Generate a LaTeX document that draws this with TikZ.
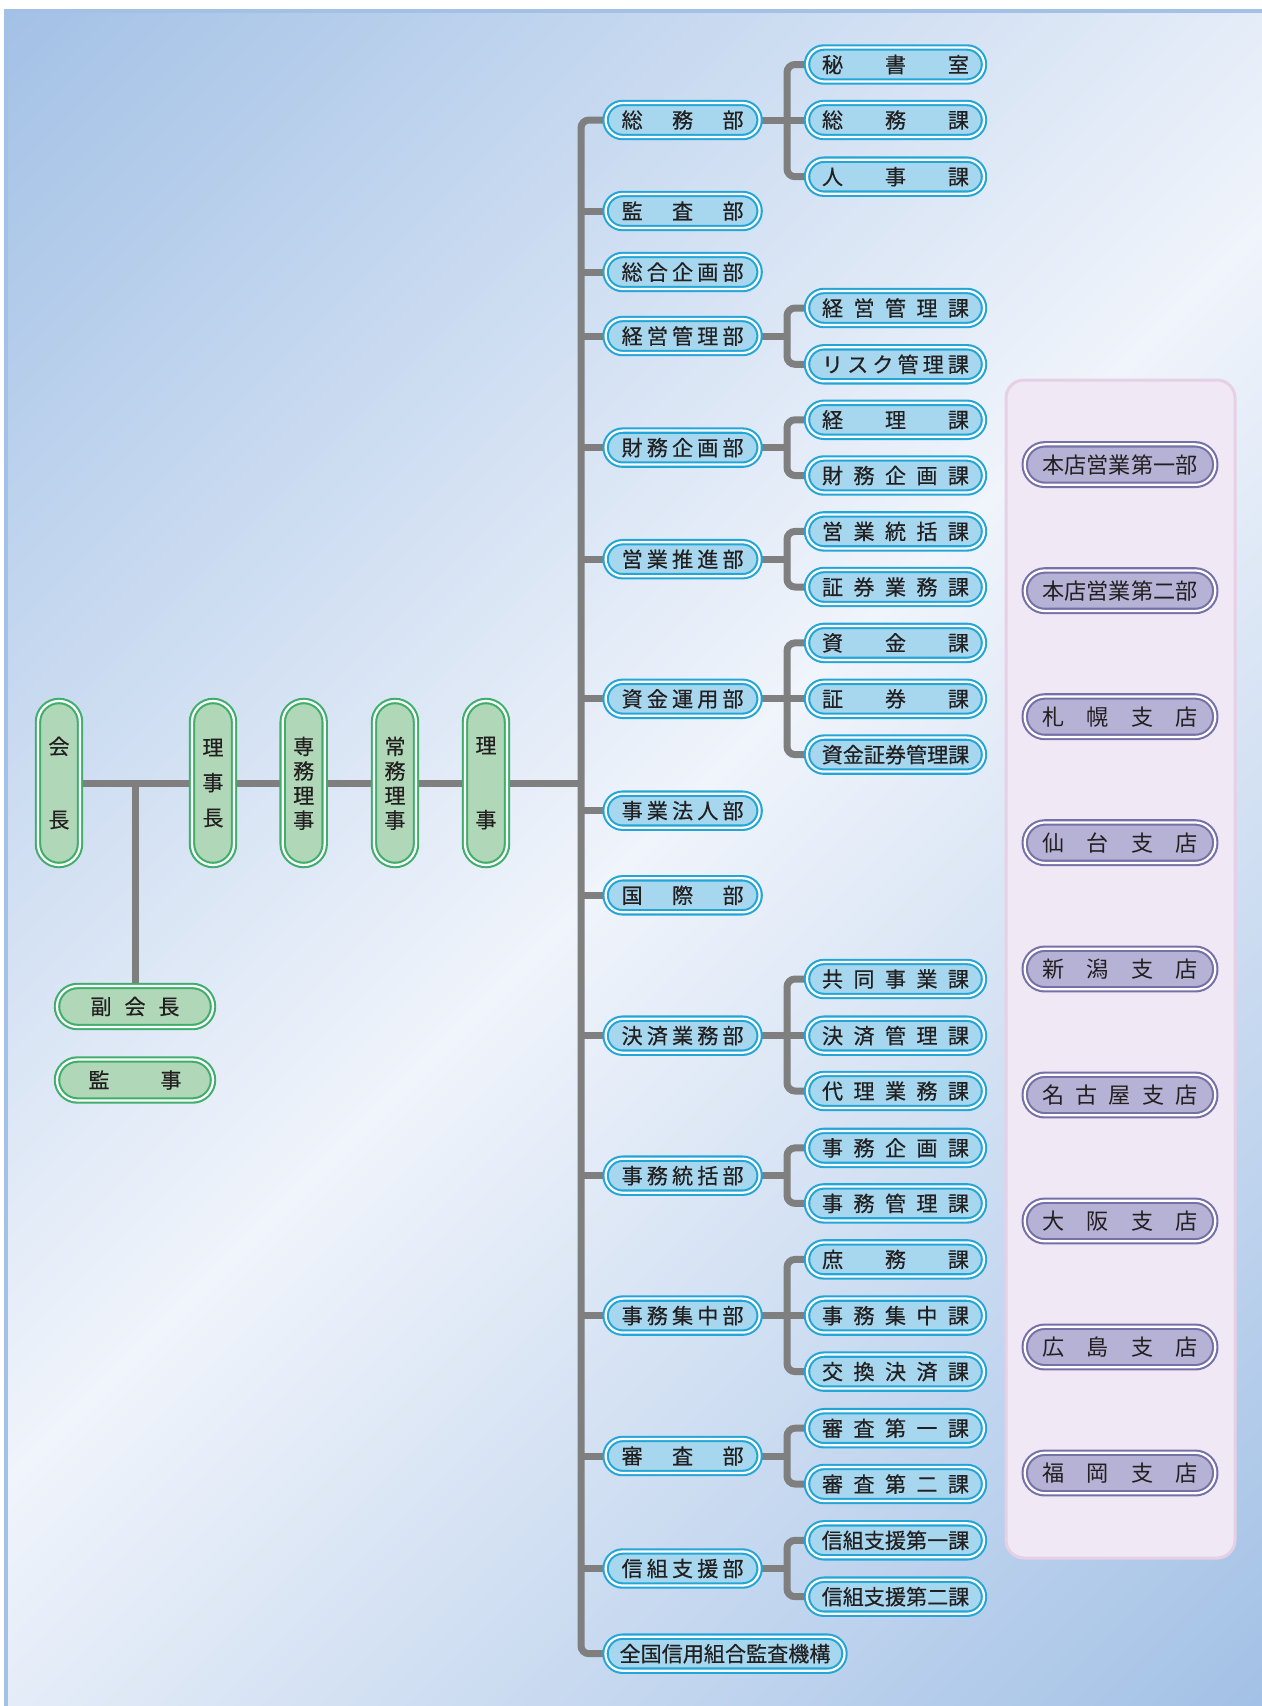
\documentclass[tikz,border=0pt]{standalone}
\usepackage{fontspec}
\newfontfamily\jpfont{Noto Sans CJK JP}
\newfontfamily\jpfontfuto{Noto Sans CJK JP}[FakeBold=0.4]

\definecolor{haikeiao}{HTML}{A3C1E6}
\definecolor{haikeishiro}{HTML}{F0F4FB}
\definecolor{aofill}{HTML}{A6D7EE}
\definecolor{aosen}{HTML}{22A6D8}
\definecolor{midorifill}{HTML}{B0D8B8}
\definecolor{midorisen}{HTML}{3FAE6B}
\definecolor{murasakifill}{HTML}{B6B2D6}
\definecolor{murasakisen}{HTML}{7570A8}
\definecolor{paneru}{HTML}{F0E8F5}
\definecolor{panerusen}{HTML}{E6D0E6}
\definecolor{haiiro}{HTML}{7F7F7F}
\definecolor{moji}{HTML}{231F20}

\pgfdeclareverticalshading{haikeigrad}{100bp}{color(0bp)=(haikeiao); color(14.6bp)=(haikeiao); color(50bp)=(haikeishiro); color(85.4bp)=(haikeiao); color(100bp)=(haikeiao)}

\pgfdeclarelayer{haikei}
\pgfdeclarelayer{senbiki}
\pgfsetlayers{haikei,senbiki,main}

% letters spread evenly over a width / a height
\def\hiraku#1{\hirakuA#1\relax}
\def\hirakuA#1#2{#1\ifx\relax#2\else\hfill\expandafter\hirakuA\expandafter#2\fi}
\newcommand{\yoko}[2]{\makebox[#1][s]{\hiraku{#2}}}
\def\tatehiraku#1{\tatehirakuA#1\relax}
\def\tatehirakuA#1#2{\hbox to\hsize{\hss#1\hss}\ifx\relax#2\else\vfill\expandafter\tatehirakuA\expandafter#2\fi}
\newcommand{\tate}[2]{\parbox[c][#1][s]{1.2em}{\tatehiraku{#2}}}

\begin{document}
\begin{tikzpicture}[x=0.2mm, y=-0.2mm,
		every node/.style={font=\jpfontfuto\fontsize{12pt}{14pt}\selectfont, text=moji, inner sep=0pt},
		waku/.style={double=white, double distance=0.45mm, line width=0.42mm},
		bu/.style={waku, draw=aosen, fill=aofill, rounded corners=3.4mm, minimum width=30.8mm, minimum height=6.8mm},
		ka/.style={bu, minimum width=35.4mm},
		ten/.style={waku, draw=murasakisen, fill=murasakifill, rounded corners=4mm, minimum width=38.1mm, minimum height=8.1mm, font=\jpfont\fontsize{12.6pt}{14pt}\selectfont},
		yaku/.style={waku, draw=midorisen, fill=midorifill, rounded corners=4.1mm, minimum width=31.2mm, minimum height=8.2mm},
		yakutate/.style={waku, draw=midorisen, fill=midorifill, rounded corners=4.2mm, minimum width=8.4mm, minimum height=32.8mm},
		kei/.style={draw=haiiro, line width=1.4mm},
	]
		\useasboundingbox (0,0) rectangle (1262,1706);

		% yakuin
		\node[yakutate] (kaichou) at (59,783) {\tate{18.2mm}{会長}};
		\node[yakutate] (rijichou) at (213,783) {\tate{17.4mm}{理事長}};
		\node[yakutate] (senmu) at (303.7,783) {\tate{18.2mm}{専務理事}};
		\node[yakutate] (joumu) at (395,783) {\tate{18.2mm}{常務理事}};
		\node[yakutate] (riji) at (486,783) {\tate{18.2mm}{理事}};
		\node[yaku] (fukukaichou) at (135,1006.5) {\yoko{17.8mm}{副会長}};
		\node[yaku] (kanji) at (135,1080) {\yoko{18.6mm}{監事}};

		% bu
		\node[bu] (soumubu) at (682.6,120) {\yoko{24.4mm}{総務部}};
		\node[bu] (kansabu) at (682.6,211) {\yoko{24.4mm}{監査部}};
		\node[bu] (kikakubu) at (682.6,272) {\yoko{24.4mm}{総合企画部}};
		\node[bu] (keieibu) at (682.6,336) {\yoko{24.4mm}{経営管理部}};
		\node[bu] (zaimubu) at (682.6,447.6) {\yoko{24.4mm}{財務企画部}};
		\node[bu] (eigyoubu) at (682.6,559.2) {\yoko{24.4mm}{営業推進部}};
		\node[bu] (shikinbu) at (682.6,698.8) {\yoko{24.4mm}{資金運用部}};
		\node[bu] (jigyoubu) at (682.6,810.7) {\yoko{24.4mm}{事業法人部}};
		\node[bu] (kokusaibu) at (682.6,895.3) {\yoko{24.4mm}{国際部}};
		\node[bu] (kessaibu) at (682.6,1035.7) {\yoko{24.4mm}{決済業務部}};
		\node[bu] (toukatsubu) at (682.6,1175.7) {\yoko{24.4mm}{事務統括部}};
		\node[bu] (shuuchuubu) at (682.6,1315.6) {\yoko{24.4mm}{事務集中部}};
		\node[bu] (shinsabu) at (682.6,1456) {\yoko{24.4mm}{審査部}};
		\node[bu] (shinkumibu) at (682.6,1568.5) {\yoko{24.4mm}{信組支援部}};
		\node[bu, minimum width=47.8mm] (zenkoku) at (725,1653.7) {全国信用組合監査機構};

		% ka
		\node[ka] (hisho) at (895.5,64.5) {\yoko{29.4mm}{秘書室}};
		\node[ka] (soumuka) at (895.5,120) {\yoko{29.4mm}{総務課}};
		\node[ka] (jinji) at (895.5,176.7) {\yoko{29.4mm}{人事課}};
		\node[ka] (keieika) at (895.5,308) {\yoko{29.4mm}{経営管理課}};
		\node[ka] (risuku) at (895.5,364.3) {\yoko{29.4mm}{リスク管理課}};
		\node[ka] (keiri) at (895.5,419.8) {\yoko{29.4mm}{経理課}};
		\node[ka] (zaimuka) at (895.5,475.5) {\yoko{29.4mm}{財務企画課}};
		\node[ka] (eigyouka) at (895.5,531.4) {\yoko{29.4mm}{営業統括課}};
		\node[ka] (shoukengyoumu) at (895.5,587) {\yoko{29.4mm}{証券業務課}};
		\node[ka] (shikinka) at (895.5,642.9) {\yoko{29.4mm}{資金課}};
		\node[ka] (shoukenka) at (895.5,698.8) {\yoko{29.4mm}{証券課}};
		\node[ka] (shikinshouken) at (895.5,754.6) {資金証券管理課};
		\node[ka] (kyoudou) at (895.5,979) {\yoko{29.4mm}{共同事業課}};
		\node[ka] (kessaika) at (895.5,1035.7) {\yoko{29.4mm}{決済管理課}};
		\node[ka] (dairi) at (895.5,1091) {\yoko{29.4mm}{代理業務課}};
		\node[ka] (jimukikaku) at (895.5,1147.9) {\yoko{29.4mm}{事務企画課}};
		\node[ka] (jimukanri) at (895.5,1203.4) {\yoko{29.4mm}{事務管理課}};
		\node[ka] (shomu) at (895.5,1259.4) {\yoko{29.4mm}{庶務課}};
		\node[ka] (jimushuuchuu) at (895.5,1315.6) {\yoko{29.4mm}{事務集中課}};
		\node[ka] (koukan) at (895.5,1371.6) {\yoko{29.4mm}{交換決済課}};
		\node[ka] (shinsa1) at (895.5,1428.2) {\yoko{29.4mm}{審査第一課}};
		\node[ka] (shinsa2) at (895.5,1484) {\yoko{29.4mm}{審査第二課}};
		\node[ka] (shien1) at (895.5,1540.3) {信組支援第一課};
		\node[ka] (shien2) at (895.5,1596.7) {信組支援第二課};

		% eigyouten
		\node[ten] (honten1) at (1120,464.6) {本店営業第一部};
		\node[ten] (honten2) at (1120,590.7) {本店営業第二部};
		\node[ten] (sapporo) at (1120,716.7) {\yoko{31.2mm}{札幌支店}};
		\node[ten] (sendai) at (1120,842.7) {\yoko{31.2mm}{仙台支店}};
		\node[ten] (niigata) at (1120,969) {\yoko{31.2mm}{新潟支店}};
		\node[ten] (nagoya) at (1120,1095) {\yoko{31.2mm}{名古屋支店}};
		\node[ten] (osaka) at (1120,1221) {\yoko{31.2mm}{大阪支店}};
		\node[ten] (hiroshima) at (1120,1347) {\yoko{31.2mm}{広島支店}};
		\node[ten] (fukuoka) at (1120,1473) {\yoko{31.2mm}{福岡支店}};

		\coordinate (miki) at (581,783);
		\coordinate (eda) at (787,0);

		\begin{pgfonlayer}{haikei}
			\shade[shading=haikeigrad, shading angle=45] (4,9) rectangle (1262,1706);
			\fill[haikeiao] (4,9) rectangle (1262,13);
			\fill[haikeiao] (4,9) rectangle (8,1706);
			\draw[panerusen, fill=paneru, line width=0.6mm, rounded corners=3.6mm] (1006,380) rectangle (1235,1558);
		\end{pgfonlayer}

		\begin{pgfonlayer}{senbiki}
			\draw[kei] (kaichou) -- (rijichou) -- (senmu) -- (joumu) -- (riji) -- (miki);
			\draw[kei] (fukukaichou) -- (fukukaichou |- miki);
			\draw[kei, rounded corners=1.6mm] (soumubu.west) -| (miki) |- (zenkoku.west);
			\draw[kei] (kansabu.west) -- (kansabu.west -| miki);
			\draw[kei] (kikakubu.west) -- (kikakubu.west -| miki);
			\draw[kei] (keieibu.west) -- (keieibu.west -| miki);
			\draw[kei] (zaimubu.west) -- (zaimubu.west -| miki);
			\draw[kei] (eigyoubu.west) -- (eigyoubu.west -| miki);
			\draw[kei] (shikinbu.west) -- (shikinbu.west -| miki);
			\draw[kei] (jigyoubu.west) -- (jigyoubu.west -| miki);
			\draw[kei] (kokusaibu.west) -- (kokusaibu.west -| miki);
			\draw[kei] (kessaibu.west) -- (kessaibu.west -| miki);
			\draw[kei] (toukatsubu.west) -- (toukatsubu.west -| miki);
			\draw[kei] (shuuchuubu.west) -- (shuuchuubu.west -| miki);
			\draw[kei] (shinsabu.west) -- (shinsabu.west -| miki);
			\draw[kei] (shinkumibu.west) -- (shinkumibu.west -| miki);

			\draw[kei] (soumubu.east) -- (soumuka.west);
			\draw[kei, rounded corners=1.6mm] (hisho.west) -| (eda |- soumuka.west) |- (jinji.west);
			\draw[kei] (keieibu.east) -- (keieibu.east -| eda);
			\draw[kei, rounded corners=1.6mm] (keieika.west) -| (eda |- keieibu.east) |- (risuku.west);
			\draw[kei] (zaimubu.east) -- (zaimubu.east -| eda);
			\draw[kei, rounded corners=1.6mm] (keiri.west) -| (eda |- zaimubu.east) |- (zaimuka.west);
			\draw[kei] (eigyoubu.east) -- (eigyoubu.east -| eda);
			\draw[kei, rounded corners=1.6mm] (eigyouka.west) -| (eda |- eigyoubu.east) |- (shoukengyoumu.west);
			\draw[kei] (shikinbu.east) -- (shoukenka.west);
			\draw[kei, rounded corners=1.6mm] (shikinka.west) -| (eda |- shoukenka.west) |- (shikinshouken.west);
			\draw[kei] (kessaibu.east) -- (kessaika.west);
			\draw[kei, rounded corners=1.6mm] (kyoudou.west) -| (eda |- kessaika.west) |- (dairi.west);
			\draw[kei] (toukatsubu.east) -- (toukatsubu.east -| eda);
			\draw[kei, rounded corners=1.6mm] (jimukikaku.west) -| (eda |- toukatsubu.east) |- (jimukanri.west);
			\draw[kei] (shuuchuubu.east) -- (jimushuuchuu.west);
			\draw[kei, rounded corners=1.6mm] (shomu.west) -| (eda |- jimushuuchuu.west) |- (koukan.west);
			\draw[kei] (shinsabu.east) -- (shinsabu.east -| eda);
			\draw[kei, rounded corners=1.6mm] (shinsa1.west) -| (eda |- shinsabu.east) |- (shinsa2.west);
			\draw[kei] (shinkumibu.east) -- (shinkumibu.east -| eda);
			\draw[kei, rounded corners=1.6mm] (shien1.west) -| (eda |- shinkumibu.east) |- (shien2.west);
		\end{pgfonlayer}
	\end{tikzpicture}
\end{document}
